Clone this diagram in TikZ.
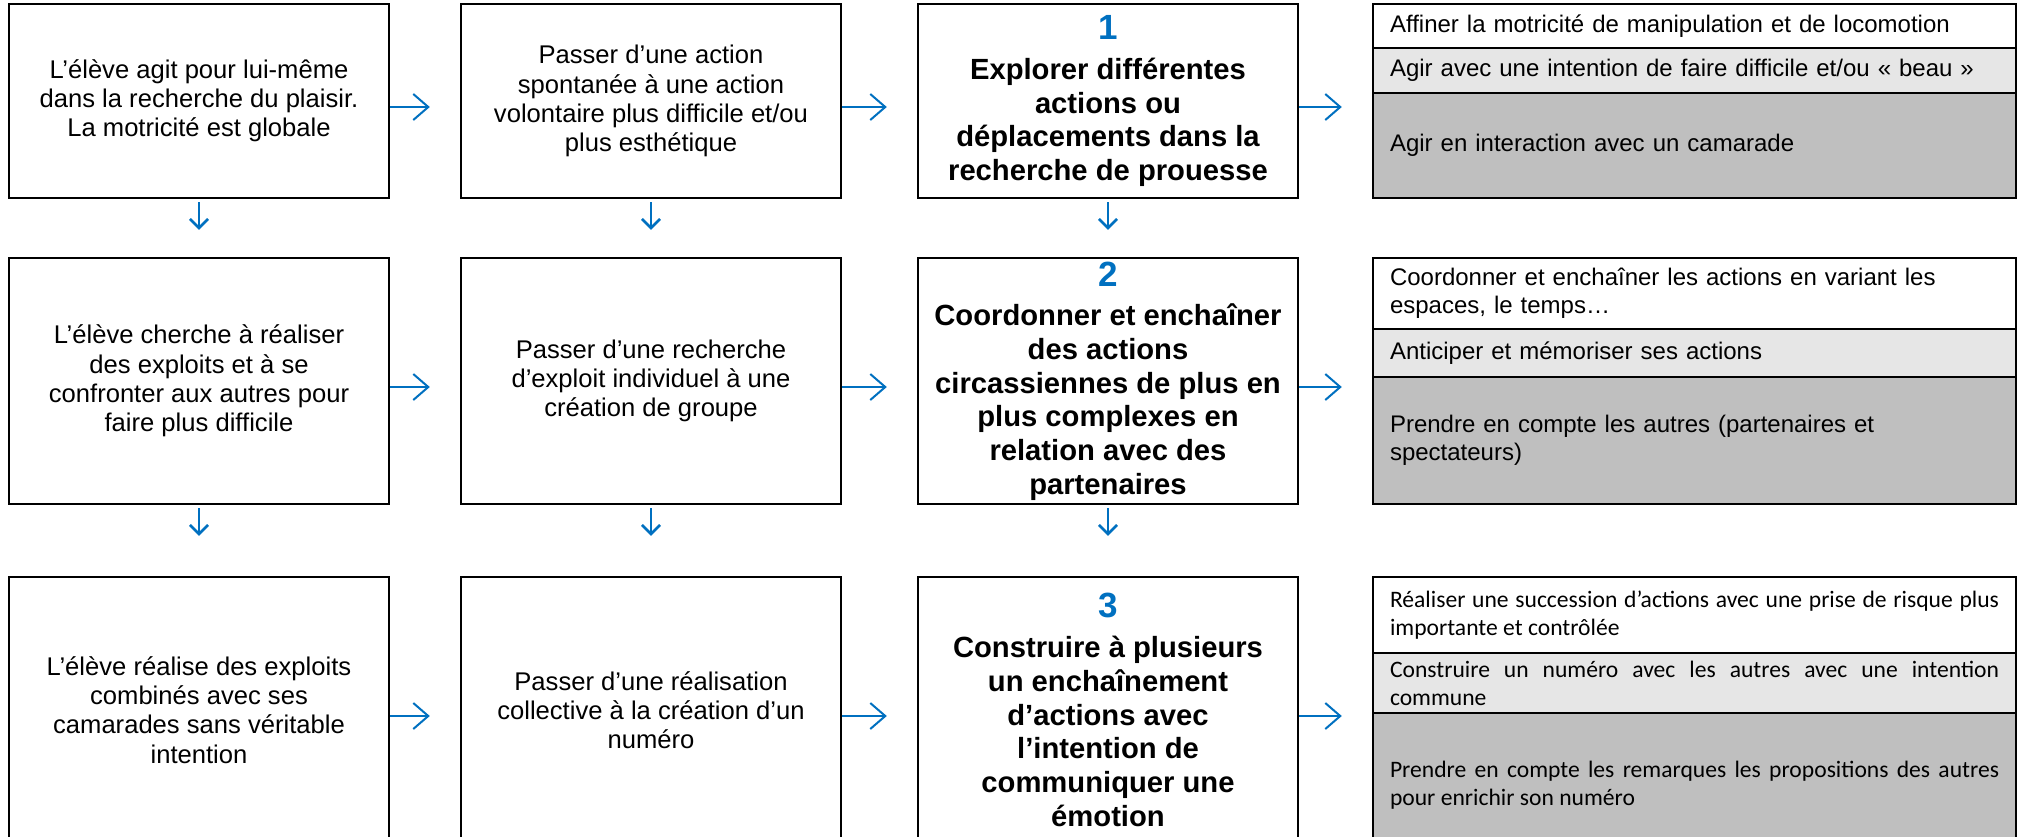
\documentclass[tikz,border=0pt]{standalone}
\usepackage{fontspec}
\setmainfont{Liberation Sans}
\newfontfamily\calibrifont{Carlito}
\usetikzlibrary{arrows.meta}
\definecolor{arrowblue}{HTML}{0070C0}
\definecolor{paleshade}{HTML}{E6E6E6}
\definecolor{darkshade}{HTML}{BFBFBF}
\newcommand{\stepnum}[1]{{\color{arrowblue}\fontsize{17.5pt}{16.85pt}\selectfont #1}\\[3pt]}

\begin{document}
\begin{tikzpicture}[x=0.5pt, y=-0.5pt,
    box/.style={draw, line width=1.2pt, minimum width=190pt, align=center, inner sep=0pt},
    plain/.style={font=\fontsize{12.8pt}{14.6pt}\selectfont},
    strong/.style={font=\bfseries\fontsize{14.6pt}{16.85pt}\selectfont},
    cell/.style={draw, line width=1.2pt, text width=304.5pt, inner xsep=8.5pt, inner ysep=0pt,
        align=left, font=\fontsize{12pt}{13.8pt}\selectfont},
    calcell/.style={cell, align=justify, font=\calibrifont\fontsize{11.8pt}{14pt}\selectfont},
    rarr/.style={arrowblue, line width=1pt, -{Straight Barb[length=7.5pt,width=13pt]},
        shorten >=15pt, transform canvas={yshift=-3pt}},
    darr/.style={arrowblue, line width=1.3pt, -{Straight Barb[length=4.5pt,width=9pt]}, shorten <=1.5pt}]

    \useasboundingbox (0,0) rectangle (2020,836);
    \clip (0,0) rectangle (2020,836);
    \fill[white] (0,0) rectangle (2020,836);

    % first row
    \node[box, plain, minimum height=97pt] (a1) at (199,101)
        {L’élève agit pour lui-même\\dans la recherche du plaisir.\\La motricité est globale};
    \node[box, plain, minimum height=97pt] (b1) at (651,101)
        {Passer d’une action\\spontanée à une action\\volontaire plus difficile et/ou\\plus esthétique};
    \node[box, strong, minimum height=97pt] (c1) at (1108,101)
        {\stepnum{1}Explorer différentes\\actions ou\\déplacements dans la\\recherche de prouesse};
    \node[cell, minimum height=22pt] (d1a) at (1694.5,26)
        {Affiner la motricité de manipulation et de locomotion};
    \node[cell, fill=paleshade, minimum height=22.5pt] (d1b) at (1694.5,70.5)
        {Agir avec une intention de faire difficile et/ou «~beau~»};
    \node[cell, fill=darkshade, minimum height=52.5pt] (d1c) at (1694.5,145.5)
        {Agir en interaction avec un camarade};

    % second row
    \node[box, plain, minimum height=123pt] (a2) at (199,381)
        {L’élève cherche à réaliser\\des exploits et à se\\confronter aux autres pour\\faire plus difficile};
    \node[box, plain, minimum height=123pt] (b2) at (651,381)
        {Passer d’une recherche\\d’exploit individuel à une\\création de groupe};
    \node[box, strong, minimum height=123pt] (c2) at (1108,381)
        {\stepnum{2}Coordonner et enchaîner\\des actions\\circassiennes de plus en\\plus complexes en\\relation avec des\\partenaires};
    \node[cell, minimum height=35.5pt] (d2a) at (1694.5,293.5)
        {Coordonner et enchaîner les actions en variant les\\espaces, le temps…};
    \node[cell, fill=paleshade, minimum height=24pt] (d2b) at (1694.5,353)
        {Anticiper et mémoriser ses actions};
    \node[cell, fill=darkshade, minimum height=63.5pt] (d2c) at (1694.5,440.5)
        {Prendre en compte les autres (partenaires et\\spectateurs)};

    % third row
    \node[box, plain, minimum height=133pt] (a3) at (199,710)
        {L’élève réalise des exploits\\combinés avec ses\\camarades sans véritable\\intention};
    \node[box, plain, minimum height=133pt] (b3) at (651,710)
        {Passer d’une réalisation\\collective à la création d’un\\numéro};
    \node[box, strong, minimum height=133pt] (c3) at (1108,710)
        {\stepnum{3}Construire à plusieurs\\un enchaînement\\d’actions avec\\l’intention de\\communiquer une\\émotion};
    \node[calcell, minimum height=38pt] (d3a) at (1694.5,615)
        {Réaliser une succession d’actions avec une prise de risque plus\linebreak importante et contrôlée};
    \node[calcell, fill=paleshade, minimum height=30pt] (d3b) at (1694.5,683)
        {Construire un numéro avec les autres avec une intention\linebreak commune};
    \node[calcell, fill=darkshade, minimum height=72.5pt] (d3c) at (1694.5,785.5)
        {Prendre en compte les remarques les propositions des autres\linebreak pour enrichir son numéro};

    \draw[rarr] (a1) -- (b1);
    \draw[rarr] (b1) -- (c1);
    \draw[rarr] (c1) -- (c1 -| d1a.west);
    \draw[rarr] (a2) -- (b2);
    \draw[rarr] (b2) -- (c2);
    \draw[rarr] (c2) -- (c2 -| d2a.west);
    \draw[rarr] (a3) -- (b3);
    \draw[rarr] (b3) -- (c3);
    \draw[rarr] (c3) -- (c3 -| d3a.west);

    \draw[darr, shorten >=13.5pt] (a1) -- (a2);
    \draw[darr, shorten >=13.5pt] (b1) -- (b2);
    \draw[darr, shorten >=13.5pt] (c1) -- (c2);
    \draw[darr, shorten >=20pt] (a2) -- (a3);
    \draw[darr, shorten >=20pt] (b2) -- (b3);
    \draw[darr, shorten >=20pt] (c2) -- (c3);
\end{tikzpicture}
\end{document}
